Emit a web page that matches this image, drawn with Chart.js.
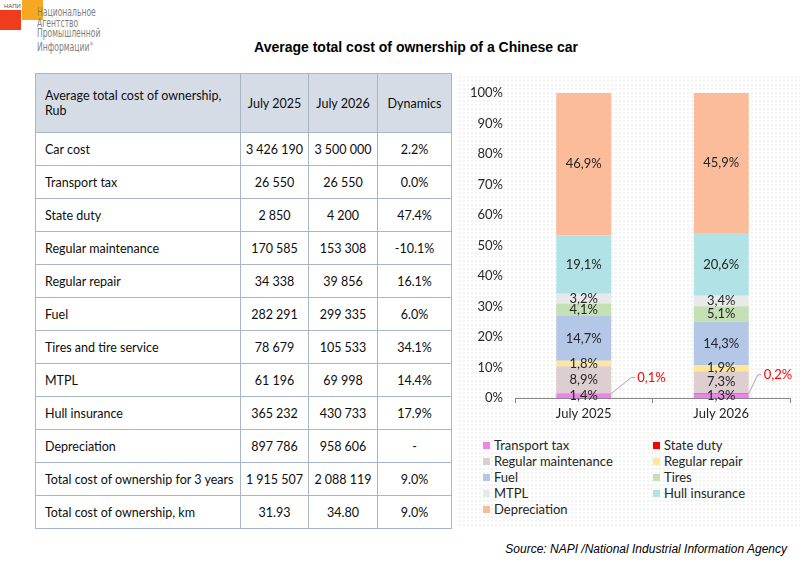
<!DOCTYPE html>
<html>
<head>
<meta charset="utf-8">
<script src="https://cdn.jsdelivr.net/npm/chart.js@4"></script>
<style>
    body { margin: 0; width: 809px; height: 561px; background: #fff; position: relative; overflow: hidden; font-family: Lato, sans-serif; }
    .logo-red { position: absolute; left: 0; top: 10px; width: 21px; height: 20px; background: #f03c1e; }
    .logo-orange { position: absolute; left: 22px; top: 0; width: 21px; height: 20px; background: #f7a823; }
    .logo-small { position: absolute; left: 4px; top: 3px; font: 6px "Liberation Sans", sans-serif; color: #555; }
    .logo-text { position: absolute; left: 37px; top: 7px; font: 11.5px "DejaVu Sans Condensed", "Liberation Sans Narrow", sans-serif; color: #7f7f7f; line-height: 10.5px; transform: scaleX(0.74); transform-origin: left top; white-space: nowrap; }
    .title { position: absolute; left: 0; top: 39px; width: 832px; text-align: center; font: bold 14px "Liberation Sans", Arial, sans-serif; color: #000; }
    table { position: absolute; left: 35px; top: 73px; border-collapse: collapse; table-layout: fixed; width: 416px; font-size: 12.5px; color: #0d0d0d; }
    td { border: 1.5px solid #a7b5c9; height: 32px; padding: 0 3px; text-align: center; white-space: nowrap; }
    td:first-child { text-align: left; padding-left: 9px; white-space: normal; }
    tr.head td { background: #d6dce5; height: 58px; }
    .panel { position: absolute; left: 458px; top: 75px; width: 342px; height: 452px;
        background-image: radial-gradient(#e2e2e2 0.6px, transparent 0.8px); background-size: 4px 4px; }
    .chart-box { position: absolute; left: 460px; top: 80px; width: 340px; height: 350px; }
    .legend { position: absolute; left: 483px; top: 438px; display: grid; grid-template-columns: 170px 150px; row-gap: 1px; font-size: 13px; color: #262626; }
    .legend div { height: 15px; line-height: 15px; white-space: nowrap; }
    .legend span { display: inline-block; width: 7px; height: 7px; margin-right: 4px; vertical-align: 1px; }
    .source { position: absolute; right: 22px; top: 542px; font: italic 12px "Liberation Sans", Arial, sans-serif; color: #000; }
</style>
</head>
<body>
<div class="logo-red"></div>
<div class="logo-orange"></div>
<div class="logo-small">НАПИ</div>
<div class="logo-text">Национальное<br>Агентство<br>Промышленной<br>Информации<sup style="font-size:6px">®</sup></div>
<div class="title">Average total cost of ownership of a Chinese car</div>
<table id="costTable"></table>
<div class="panel"></div>
<div class="chart-box"><canvas id="shareChart"></canvas></div>
<div class="legend" id="legend"></div>
<div class="source">Source: NAPI /National Industrial Information Agency</div>

<script>
// table data
const tableHeader = ['Average total cost of ownership, Rub', 'July 2025', 'July 2026', 'Dynamics'];
const columnWidths = [205, 68, 69, 74];
const rowLabels = ['Car cost', 'Transport tax', 'State duty', 'Regular maintenance', 'Regular repair', 'Fuel',
    'Tires and tire service', 'MTPL', 'Hull insurance', 'Depreciation', 'Total cost of ownership for 3 years',
    'Total cost of ownership, km'];
const costJuly2025 = ['3 426 190', '26 550', '2 850', '170 585', '34 338', '282 291', '78 679', '61 196',
    '365 232', '897 786', '1 915 507', '31.93'];
const costJuly2026 = ['3 500 000', '26 550', '4 200', '153 308', '39 856', '299 335', '105 533', '69 998',
    '430 733', '958 606', '2 088 119', '34.80'];
const dynamics = ['2.2%', '0.0%', '47.4%', '-10.1%', '16.1%', '6.0%', '34.1%', '14.4%', '17.9%', '-', '9.0%', '9.0%'];

// chart data (share of total cost, %)
const periods = ['July 2025', 'July 2026'];
const seriesNames = ['Transport tax', 'State duty', 'Regular maintenance', 'Regular repair', 'Fuel', 'Tires',
    'MTPL', 'Hull insurance', 'Depreciation'];
const share2025 = [1.4, 0.1, 8.9, 1.8, 14.7, 4.1, 3.2, 19.1, 46.9];
const share2026 = [1.3, 0.2, 7.3, 1.9, 14.3, 5.1, 3.4, 20.6, 45.9];
const seriesColors = ['#ee82ee', '#ff0000', '#ddcfcf', '#ffe699', '#b4c7e7', '#c5e0b4', '#e7e9ea', '#b1e3e6', '#fcbc9a'];
const yTicks = [0, 10, 20, 30, 40, 50, 60, 70, 80, 90, 100];

// build table
const table = document.getElementById('costTable');
let html = '<colgroup>' + columnWidths.map(w => `<col style="width:${w}px">`).join('') + '</colgroup>';
html += '<tr class="head">' + tableHeader.map(h => `<td>${h}</td>`).join('') + '</tr>';
rowLabels.forEach((label, i) => {
    html += `<tr><td>${label}</td><td>${costJuly2025[i]}</td><td>${costJuly2026[i]}</td><td>${dynamics[i]}</td></tr>`;
});
table.innerHTML = html;

function fmt(v) {
    return v.toFixed(1).replace('.', ',') + '%';
}

// labels inside the segments, the tiny state duty one pulled out with a leader line
const segmentLabels = {
    id: 'segmentLabels',
    afterDatasetsDraw(chart) {
        const ctx = chart.ctx;
        ctx.save();
        ctx.font = '13px Lato';
        ctx.textAlign = 'center';
        ctx.textBaseline = 'middle';
        chart.data.datasets.forEach((ds, di) => {
            const meta = chart.getDatasetMeta(di);
            meta.data.forEach((bar, i) => {
                const v = ds.data[i];
                const cy = (bar.y + bar.base) / 2;
                if (ds.label === 'State duty') {
                    const x0 = bar.x + bar.width / 2;
                    const y0 = cy;
                    const lift = i === 0 ? 16 : 19;
                    const run = i === 0 ? 20 : 9;
                    ctx.strokeStyle = '#a6a6a6';
                    ctx.lineWidth = 1;
                    ctx.beginPath();
                    ctx.moveTo(x0, y0);
                    ctx.lineTo(x0 + run, y0 - lift);
                    ctx.lineTo(x0 + run + 4, y0 - lift);
                    ctx.stroke();
                    ctx.fillStyle = '#ff0000';
                    ctx.textAlign = 'left';
                    ctx.fillText(fmt(v), x0 + run + 6, y0 - lift);
                    ctx.textAlign = 'center';
                } else {
                    ctx.fillStyle = '#262626';
                    ctx.fillText(fmt(v), bar.x, cy);
                }
            });
        });
        ctx.restore();
    }
};

document.addEventListener('DOMContentLoaded', function() {
    const ctx = document.getElementById('shareChart').getContext('2d');
    const shareChart = new Chart(ctx, {
        type: 'bar',
        data: {
            labels: periods,
            datasets: seriesNames.map((name, i) => ({
                label: name,
                data: [share2025[i], share2026[i]],
                backgroundColor: seriesColors[i],
                borderWidth: 0,
                categoryPercentage: 1,
                barPercentage: 0.4
            }))
        },
        options: {
            responsive: true,
            maintainAspectRatio: false,
            animation: false,
            layout: { padding: { left: 0, right: 10, top: 13, bottom: 7 } },
            plugins: {
                legend: { display: false },
                tooltip: { enabled: false }
            },
            scales: {
                x: {
                    stacked: true,
                    grid: { display: true, drawOnChartArea: false, drawTicks: true, tickLength: 5, offset: true, color: '#868686' },
                    border: { display: true, color: '#868686' },
                    ticks: { color: '#262626', font: { family: 'Lato', size: 13 }, padding: 3 },
                    afterFit: scale => { scale.height = 25; scale.paddingLeft = 0; scale.paddingRight = 0; }
                },
                y: {
                    stacked: true,
                    min: 0,
                    max: 100,
                    afterBuildTicks: scale => { scale.ticks = yTicks.map(v => ({ value: v })); },
                    grid: { display: false, drawTicks: false },
                    border: { display: false },
                    ticks: { color: '#262626', font: { family: 'Lato', size: 13 }, padding: 12, callback: v => v + '%' },
                    afterFit: scale => { scale.width = 55; scale.paddingTop = 0; scale.paddingBottom = 0; }
                }
            }
        },
        plugins: [segmentLabels]
    });

    const legend = document.getElementById('legend');
    legend.innerHTML = shareChart.data.datasets.map(ds =>
        `<div><span style="background:${ds.backgroundColor}"></span>${ds.label}</div>`).join('');
});
</script>
</body>
</html>
